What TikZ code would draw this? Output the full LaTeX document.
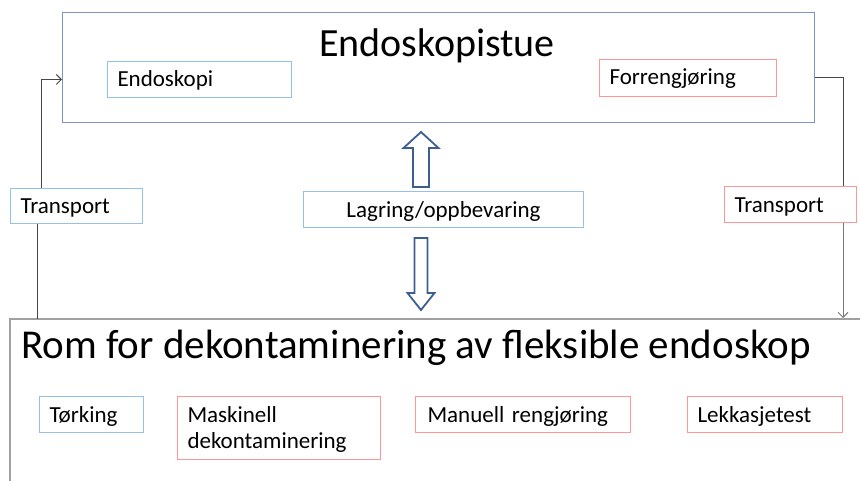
\documentclass[tikz,border=0pt]{standalone}
\usepackage{fontspec}
\setmainfont{Carlito}
\usetikzlibrary{arrows.meta}
\definecolor{topc}{RGB}{125,148,196}
\definecolor{lblue}{RGB}{150,192,230}
\definecolor{lred}{RGB}{255,150,150}
\definecolor{arrowblue}{RGB}{60,95,145}
\definecolor{lowc}{RGB}{160,160,160}
\definecolor{connc}{RGB}{70,70,70}
\definecolor{connc2}{RGB}{120,120,120}
\begin{document}
\begin{tikzpicture}[x=1pt,y=-1pt,
  bx/.style={draw, rectangle, anchor=north west, inner xsep=10pt, inner ysep=0pt, align=left, font=\fontsize{23}{26}\selectfont, line width=1pt, text height=26pt, text depth=10pt},
  bb/.style={bx, draw=lblue},
  br/.style={bx, draw=lred},
  conn/.style={draw=connc, line width=1pt},
  conn2/.style={draw=connc2, line width=1pt},
  blk/.style={draw=arrowblue, line width=1.8pt, fill=white, line join=miter}]
\useasboundingbox (0,0) rectangle (860,481);

% top room
\node[draw=topc, line width=1pt, anchor=north west, minimum width=752pt, minimum height=110pt, inner sep=0pt] (top) at (62,12) {};
\node[anchor=base, font=\fontsize{40}{46}\selectfont, inner sep=0pt] (title) at (437,57) {Endoskopistue};
\node[bb, text width=164pt, text height=25pt, text depth=11pt] (endo) at (107,61) {Endoskopi};
\node[br, text width=157pt, text height=25pt, text depth=12pt] (forr) at (599,59) {Forrengjøring};

% transports and storage
\node[bb, text width=112pt, text height=25pt, text depth=10pt] (tl) at (10,188) {Transport};
\node[br, text width=112pt] (tr) at (724,186) {Transport};
\node[bb, text width=260pt, align=center, text height=26.5pt, text depth=9.5pt] (lag) at (303,191) {Lagring/oppbevaring};

% lower room
\coordinate (lbl) at (10,481);
\coordinate (ltl) at (10,319);
\coordinate (ltr) at (860,319);
\draw[lowc, line width=1.2pt] (lbl) -- (ltl) -- (ltr);
\node[anchor=base west, font=\fontsize{41}{46}\selectfont, inner sep=0pt] (ltitle) at (21,359) {Rom for dekontaminering av fleksible endoskop};
\node[bb, text width=84pt] (tork) at (39,396) {Tørking};
\node[br, text width=183pt, text depth=37pt] (mask) at (177,396) {Maskinell\\dekontaminering};
\node[br, inner xsep=12pt, text width=191pt] (man) at (415,396) {Manuell rengjøring};
\node[br, text width=135pt] (lekk) at (687,396) {Lekkasjetest};

% connectors
\draw[conn, -{Straight Barb[length=5pt,width=10pt]}] ([xshift=31pt]tl.north west) |- (top.west |- endo.center);
\draw[conn] ([xshift=27pt]tl.south west) -- ([xshift=27pt]tl.south west |- ltl);
\draw[conn] (top.east |- forr.center) -| ([xshift=119pt]tr.north west);
\draw[conn2, -{Straight Barb[length=5pt,width=10pt]}] ([xshift=119pt]tr.south west) -- ([xshift=119pt,yshift=1pt]tr.south west |- ltr);

% block arrows
\draw[blk] (413,187) -- (413,148) -- (403.5,148) -- (421,132) -- (438.5,148) -- (429,148) -- (429,187) -- cycle;
\draw[blk] (414.5,238) -- (427.5,238) -- (427.5,293) -- (434.5,293) -- (421,310) -- (407.5,293) -- (414.5,293) -- cycle;
\end{tikzpicture}
\end{document}
